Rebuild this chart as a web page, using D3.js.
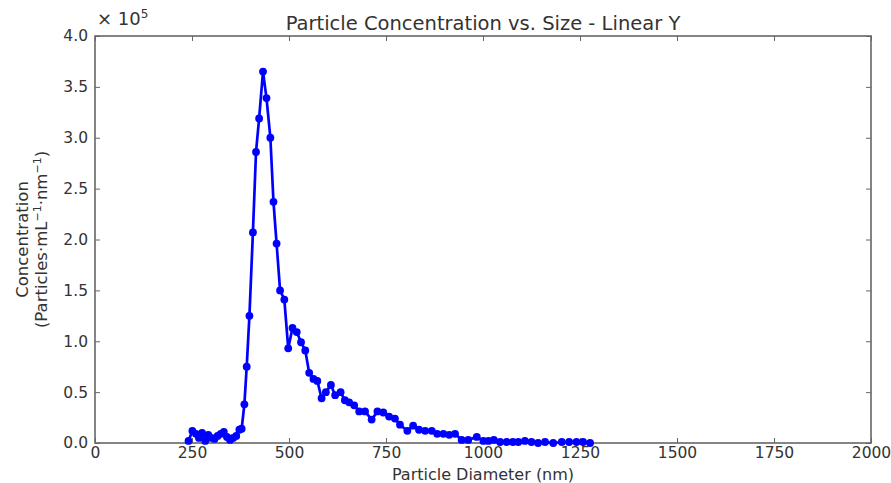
<!DOCTYPE html>
<html>
<head>
<meta charset="utf-8">
<script src="https://cdn.jsdelivr.net/npm/d3@7"></script>
<style>
  body { margin: 0; background: #fff; }
  text { font-family: "DejaVu Sans", sans-serif; fill: #333; }
</style>
</head>
<body>
<script>
// particle diameter (nm) and concentration (x 1e5 particles/mL/nm)
const diameters = [241,251,260,268,276,284,292,300,308,316,324,332,340,348,356,364,372,378,385,391,
  398,407,415,423,433,442,452,460,468,477,488,498,509,520,531,542,552,563,573,584,
  595,608,619,633,644,655,668,681,696,713,728,743,758,773,786,805,820,835,851,868,
  882,898,913,928,945,962,984,1001,1014,1028,1044,1061,1077,1091,1108,1125,1142,1160,1181,1203,
  1222,1241,1258,1276];
const concentration = [0.02,0.12,0.09,0.05,0.10,0.02,0.08,0.05,0.04,0.07,0.09,0.11,0.06,0.03,0.05,0.07,0.13,0.14,0.38,0.75,
  1.25,2.07,2.86,3.19,3.65,3.39,3.00,2.37,1.96,1.50,1.41,0.93,1.13,1.09,0.99,0.91,0.69,0.63,0.61,0.44,
  0.50,0.57,0.47,0.50,0.42,0.40,0.37,0.31,0.31,0.23,0.31,0.30,0.26,0.24,0.18,0.12,0.17,0.13,0.12,0.12,
  0.09,0.09,0.08,0.09,0.03,0.03,0.06,0.02,0.02,0.03,0.01,0.01,0.01,0.01,0.02,0.01,0.00,0.01,0.00,0.01,
  0.01,0.01,0.01,0.00];
const xTicks = [0,250,500,750,1000,1250,1500,1750,2000];
const yTicks = [0,0.5,1.0,1.5,2.0,2.5,3.0,3.5,4.0];

const W = 891, H = 483;
const m = {top: 36, right: 20, bottom: 40, left: 95};

const svg = d3.select("body").append("svg").attr("width", W).attr("height", H);

const x = d3.scaleLinear().domain([0, 2000]).range([m.left, W - m.right]);
const y = d3.scaleLinear().domain([0, 4]).range([H - m.bottom, m.top]);

const data = diameters.map((d, i) => ({d, c: concentration[i]}));

// frame
svg.append("rect")
   .attr("x", x(0)).attr("y", y(4))
   .attr("width", x(2000) - x(0)).attr("height", y(0) - y(4))
   .attr("fill", "none").attr("stroke", "#666").attr("stroke-width", 1.6);

const axisStyle = g => {
  g.select(".domain").remove();
  g.selectAll(".tick line").attr("stroke", "#666").attr("stroke-width", 1);
  g.selectAll(".tick text").attr("font-size", 15.5).attr("fill", "#333");
};

svg.append("g").attr("transform", `translate(0,${y(0)})`)
   .call(d3.axisBottom(x).tickValues(xTicks).tickFormat(d3.format("d")).tickSizeInner(-5).tickPadding(4))
   .call(axisStyle);
svg.append("g").attr("transform", `translate(0,${y(4)})`)
   .call(d3.axisTop(x).tickValues(xTicks).tickSizeInner(-5).tickFormat(""))
   .call(axisStyle);
svg.append("g").attr("transform", `translate(${x(0)},0)`)
   .call(d3.axisLeft(y).tickValues(yTicks).tickFormat(d3.format(".1f")).tickSizeInner(-5).tickPadding(7))
   .call(axisStyle);
svg.append("g").attr("transform", `translate(${x(2000)},0)`)
   .call(d3.axisRight(y).tickValues(yTicks).tickSizeInner(-5).tickFormat(""))
   .call(axisStyle);

// series
svg.append("path").datum(data)
   .attr("fill", "none").attr("stroke", "#0000ff").attr("stroke-width", 2.7)
   .attr("stroke-linejoin", "round")
   .attr("d", d3.line().x(p => x(p.d)).y(p => y(p.c)));

svg.append("g").selectAll("circle").data(data).join("circle")
   .attr("cx", p => x(p.d)).attr("cy", p => y(p.c)).attr("r", 3.9)
   .attr("fill", "#0000ff");

// texts
svg.append("text").attr("x", (x(0) + x(2000)) / 2).attr("y", 30)
   .attr("text-anchor", "middle").attr("font-size", 19.5).text("Particle Concentration vs. Size - Linear Y");

const mult = svg.append("text").attr("x", 97).attr("y", 25).attr("font-size", 18);
mult.append("tspan").text("× 10");
mult.append("tspan").attr("dy", -7).attr("font-size", 12).text("5");

svg.append("text").attr("x", (x(0) + x(2000)) / 2).attr("y", 480)
   .attr("text-anchor", "middle").attr("font-size", 16).text("Particle Diameter (nm)");

const yl = svg.append("g").attr("transform", `translate(0,${(y(0) + y(4)) / 2}) rotate(-90)`);
yl.append("text").attr("x", 0).attr("y", 28).attr("text-anchor", "middle").attr("font-size", 16.5).text("Concentration");
const yl2 = yl.append("text").attr("x", 0).attr("y", 47).attr("text-anchor", "middle").attr("font-size", 16.5);
yl2.append("tspan").text("(Particles·mL");
yl2.append("tspan").attr("dy", -6).attr("font-size", 11).text("−1");
yl2.append("tspan").attr("dy", 6).text("·nm");
yl2.append("tspan").attr("dy", -6).attr("font-size", 11).text("−1");
yl2.append("tspan").attr("dy", 6).text(")");
</script>
</body>
</html>
